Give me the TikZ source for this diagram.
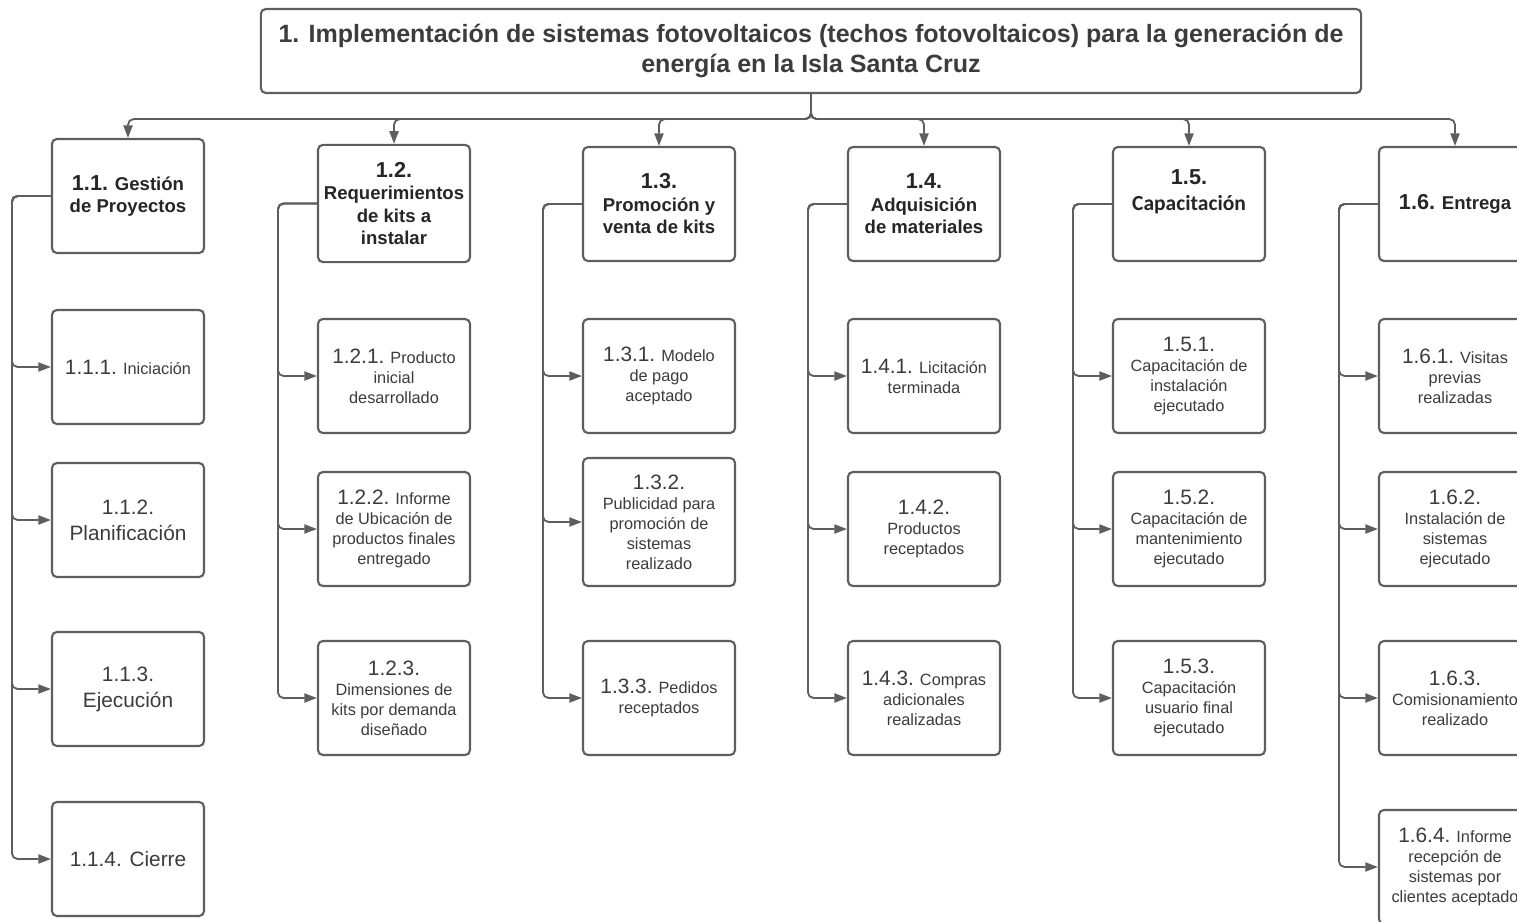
\documentclass[tikz,border=0pt]{standalone}
\usepackage{fontspec}
\setmainfont{Liberation Sans}
\newfontfamily\carlito{Carlito}
\usepackage{tikz}
\usetikzlibrary{arrows.meta,positioning}
\definecolor{edgegray}{HTML}{5E5E5E}
\definecolor{txtgray}{HTML}{3C3C3C}
\newcommand{\bignum}[1]{{\fontsize{14.8pt}{14.2pt}\selectfont #1}}
\newcommand{\phnum}[1]{{\fontsize{15.4pt}{16pt}\selectfont #1}}
\tikzstyle{wbsroot} = [draw=edgegray, line width=1.5pt, rounded corners=3.5pt, fill=white,
                       minimum width=27.5cm, minimum height=2.1cm, align=center, text=txtgray,
                       font=\fontsize{17.8pt}{22pt}\selectfont\bfseries]
\tikzstyle{phase}   = [draw=edgegray, line width=1.5pt, rounded corners=3.5pt, fill=white,
                       minimum width=3.8cm, minimum height=2.85cm, align=center, text=black!85,
                       font=\fontsize{13.2pt}{16pt}\selectfont\bfseries]
\tikzstyle{task}    = [draw=edgegray, line width=1.5pt, rounded corners=3.5pt, fill=white,
                       minimum width=3.8cm, minimum height=2.85cm, align=center, text=txtgray,
                       font=\fontsize{11.6pt}{14.2pt}\selectfont]
\tikzstyle{tasklg}  = [task, font=\fontsize{14.8pt}{18.5pt}\selectfont]
\tikzstyle{link}    = [draw=edgegray, line width=1.3pt, rounded corners=4pt,
                       -{Triangle[length=9pt,width=6.5pt]}]

\begin{document}
\begin{tikzpicture}[x=0.025cm, y=-0.025cm]
  \useasboundingbox (0,0) rectangle (1517,921);
  \clip (0,0) rectangle (1517,921);
  % root
  \node[wbsroot] (root) at (811,51) {1. Implementación de sistemas fotovoltaicos (techos fotovoltaicos) para la generación de\\energía en la Isla Santa Cruz};
  % phases
  \node[phase] (g11) at (128,196) {\phnum{1.1.} Gestión\\de Proyectos};
  \node[phase, minimum height=2.93cm] (g12) at (394,203.5) {\phnum{1.2.}\\Requerimientos\\de kits a\\instalar};
  \node[phase] (g13) at (659,204) {\phnum{1.3.}\\Promoción y\\venta de kits};
  \node[phase] (g14) at (924,204) {\phnum{1.4.}\\Adquisición\\de materiales};
  \node[phase] (g15) at (1189,204) {\phnum{1.5.}\\[3pt]{\carlito\fontsize{15.3pt}{16pt}\selectfont Capacitación}\\[4pt]};
  \node[phase] (g16) at (1455,204) {\phnum{1.6.} Entrega};
  % 1.1
  \node[task] (c111) at (128,367) {\bignum{1.1.1.} Iniciación};
  \node[tasklg] (c112) at (128,520) {1.1.2.\\Planificación};
  \node[tasklg] (c113) at (128,689) {1.1.3.\\Ejecución};
  \node[tasklg] (c114) at (128,859) {1.1.4. Cierre};
  % 1.2
  \node[task] (c121) at (394,376) {\bignum{1.2.1.} Producto\\inicial\\desarrollado};
  \node[task] (c122) at (394,529) {\bignum{1.2.2.} Informe\\de Ubicación de\\productos finales\\entregado};
  \node[task] (c123) at (394,698) {\bignum{1.2.3.}\\Dimensiones de\\kits por demanda\\diseñado};
  % 1.3
  \node[task] (c131) at (659,376) {\bignum{1.3.1.} Modelo\\de pago\\aceptado};
  \node[task, minimum height=3.2cm] (c132) at (659,522) {\bignum{1.3.2.}\\Publicidad para\\promoción de\\sistemas\\realizado};
  \node[task] (c133) at (659,698) {\bignum{1.3.3.} Pedidos\\receptados};
  % 1.4
  \node[task] (c141) at (924,376) {\bignum{1.4.1.} Licitación\\terminada};
  \node[task] (c142) at (924,529) {\bignum{1.4.2.}\\Productos\\receptados};
  \node[task] (c143) at (924,698) {\bignum{1.4.3.} Compras\\adicionales\\realizadas};
  % 1.5
  \node[task] (c151) at (1189,376) {\bignum{1.5.1.}\\Capacitación de\\instalación\\ejecutado};
  \node[task] (c152) at (1189,529) {\bignum{1.5.2.}\\Capacitación de\\mantenimiento\\ejecutado};
  \node[task] (c153) at (1189,698) {\bignum{1.5.3.}\\Capacitación\\usuario final\\ejecutado};
  % 1.6
  \node[task] (c161) at (1455,376) {\bignum{1.6.1.} Visitas\\previas\\realizadas};
  \node[task] (c162) at (1455,529) {\bignum{1.6.2.}\\Instalación de\\sistemas\\ejecutado};
  \node[task] (c163) at (1455,698) {\bignum{1.6.3.}\\Comisionamiento\\realizado};
  \node[task] (c164) at (1455,867) {\bignum{1.6.4.} Informe\\recepción de\\sistemas por\\clientes aceptado};
  % connectors
  \foreach \g in {g11,g12,g13,g14,g15,g16}
    \draw[link] (root.south) -- ++(0,25) -| (\g.north);
  \foreach \g/\c in {g11/c111,g11/c112,g11/c113,g11/c114,
                     g12/c121,g12/c122,g12/c123,
                     g13/c131,g13/c132,g13/c133,
                     g14/c141,g14/c142,g14/c143,
                     g15/c151,g15/c152,g15/c153,
                     g16/c161,g16/c162,g16/c163,g16/c164}
    \draw[link] (\g.west) -- ++(-39,0) |- (\c.west);
\end{tikzpicture}
\end{document}
